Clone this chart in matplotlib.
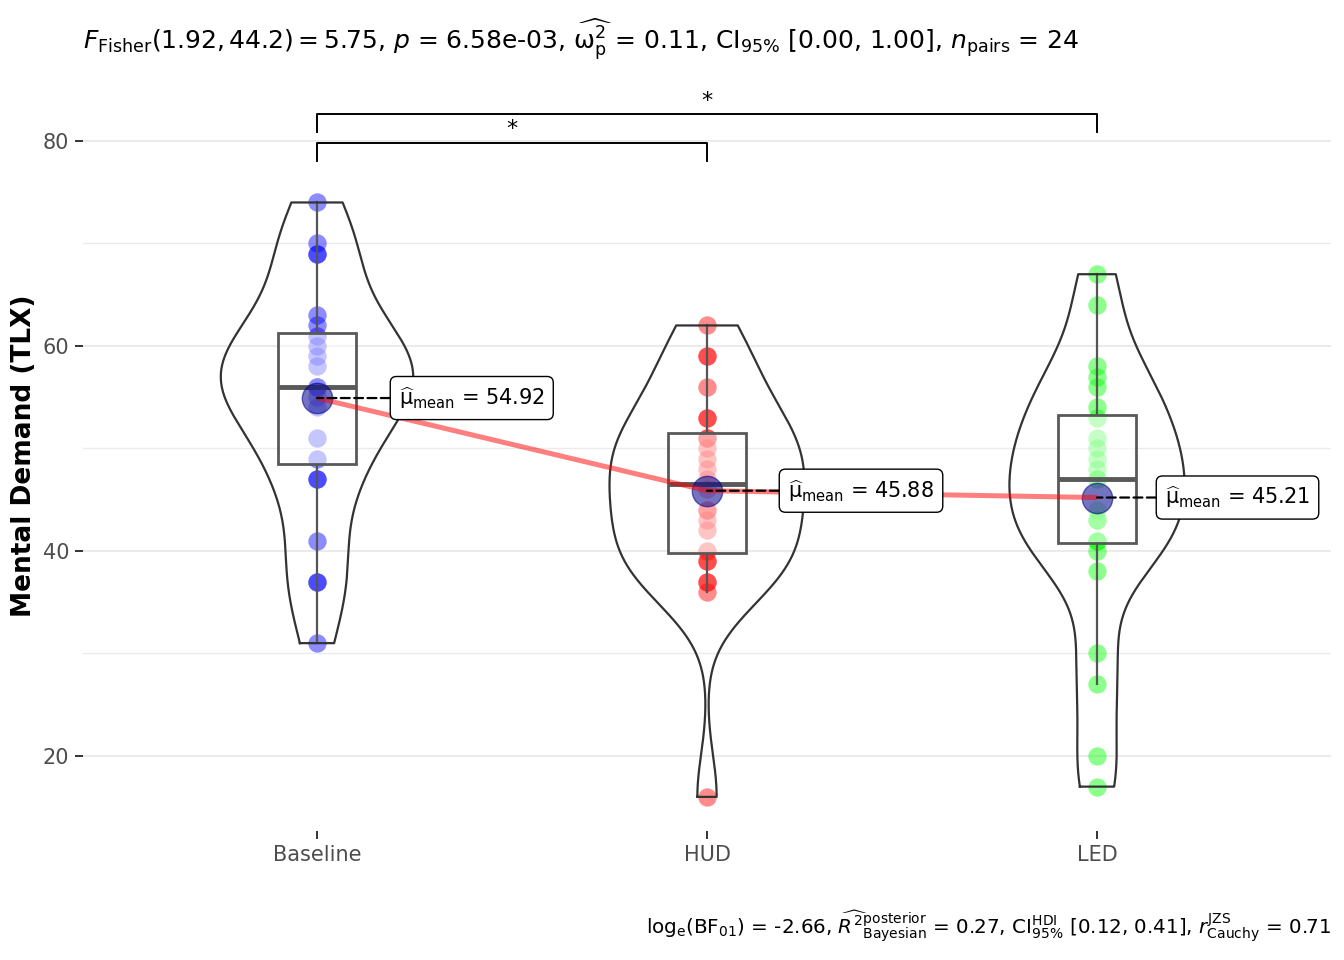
import numpy as np
import matplotlib
matplotlib.use("Agg")
import matplotlib.pyplot as plt
from matplotlib.patches import Rectangle

plt.rcParams["font.family"] = ["DejaVu Sans"]
plt.rcParams["mathtext.fontset"] = "dejavusans"

# data
groups = ["Baseline", "HUD", "LED"]
baseline = [74, 70, 69, 69, 63, 62, 61, 60, 59, 58, 56, 56, 56, 56, 55, 54, 51, 49, 47, 47, 41, 37, 37, 31]
hud = [62, 59, 59, 56, 53, 53, 51, 51, 50, 49, 48, 47, 46, 44, 44, 43, 42, 40, 39, 39, 37, 37, 36, 16]
led = [67, 64, 58, 57, 56, 54, 53, 51, 50, 49, 48, 47, 47, 44, 43, 43, 41, 41, 40, 38, 30, 27, 20, 17]
point_colors = ["#0000FF", "#FF0000", "#00FF00"]

title = (r"$F_{\mathrm{Fisher}}(1.92, 44.2) = 5.75$, $p$ = 6.58e-03, "
         r"$\widehat{\mathrm{\omega}_{\mathrm{p}}^{2}}$ = 0.11, CI$_{95\%}$ [0.00, 1.00], "
         r"$n_{\mathrm{pairs}}$ = 24")
caption = (r"log$_{\mathrm{e}}$(BF$_{01}$) = -2.66, "
           r"$\widehat{R^{2}}_{\mathrm{Bayesian}}^{\mathrm{posterior}}$ = 0.27, "
           r"CI$_{95\%}^{\mathrm{HDI}}$ [0.12, 0.41], "
           r"$r_{\mathrm{Cauchy}}^{\mathrm{JZS}}$ = 0.71")
ylabel = "Mental Demand (TLX)"

pairs = [(0, 1), (0, 2)]
pair_y = [79.8, 82.6]
pair_labels = ["*", "*"]

# layout
label_offsets = [82, 81, 68]
W, H = 1344, 960


def kde(values, grid):
    v = np.asarray(values, float)
    q75, q25 = np.percentile(v, [75, 25])
    bw = 0.9 * min(v.std(ddof=1), (q75 - q25) / 1.34) * len(v) ** -0.2
    z = (grid[:, None] - v[None, :]) / bw
    return np.exp(-0.5 * z ** 2).sum(axis=1) / (len(v) * bw * np.sqrt(2 * np.pi))


fig = plt.figure(figsize=(W / 100, H / 100), dpi=100)
ax = fig.add_axes([83 / W, 1 - 831 / H, (1331 - 83) / W, (831 - 80) / H])
ax.set_xlim(-0.6, 2.6)
ax.set_ylim(12.67, 85.95)
for s in ax.spines.values():
    s.set_visible(False)

ax.set_yticks([20, 40, 60, 80])
ax.set_yticks([30, 50, 70], minor=True)
ax.yaxis.grid(True, which="major", color="#EBEBEB", lw=1.5, zorder=0)
ax.yaxis.grid(True, which="minor", color="#EBEBEB", lw=1.0, zorder=0)
ax.set_axisbelow(True)
ax.set_xticks(range(len(groups)), groups)
ax.tick_params(axis="both", which="major", length=6, width=1.4, color="#333333",
               labelcolor="#4D4D4D", labelsize=15, pad=4)
ax.tick_params(axis="y", which="minor", length=0)

data = [baseline, hud, led]
grids = [np.linspace(min(d), max(d), 512) for d in data]
dens = [kde(d, g) for d, g in zip(data, grids)]
dmax = max(d.max() for d in dens)
means = [np.mean(d) for d in data]

for i, (vals, col) in enumerate(zip(data, point_colors)):
    vals = np.asarray(vals, float)
    ax.scatter(np.full(len(vals), i), vals, s=175, color=col, alpha=0.45, lw=0, zorder=2)

    q1, med, q3 = np.percentile(vals, [25, 50, 75])
    iqr = q3 - q1
    lo = vals[vals >= q1 - 1.5 * iqr].min()
    hi = vals[vals <= q3 + 1.5 * iqr].max()
    ax.plot([i, i], [q3, hi], color="#555555", lw=1.6, zorder=3)
    ax.plot([i, i], [lo, q1], color="#555555", lw=1.6, zorder=3)
    ax.add_patch(Rectangle((i - 0.1, q1), 0.2, iqr, facecolor=(1, 1, 1, 0.5),
                           edgecolor="#595959", lw=2.0, zorder=3))
    ax.plot([i - 0.1, i + 0.1], [med, med], color="#595959", lw=3.5, zorder=3,
            solid_capstyle="butt")

    half = dens[i] / dmax * 0.25
    g = grids[i]
    xs = np.concatenate([i - half, (i + half)[::-1], [i - half[0]]])
    ys = np.concatenate([g, g[::-1], [g[0]]])
    ax.plot(xs, ys, color="#333333", lw=1.6, zorder=3)

ax.scatter(range(len(groups)), means, s=480, color="#00008B", alpha=0.55, lw=1,
           edgecolor="#00008B", zorder=4)
ax.plot(range(len(groups)), means, color="#FF0000", alpha=0.5, lw=3.6, zorder=5,
        solid_capstyle="butt")

for i, m in enumerate(means):
    ax.annotate(r"$\widehat{\mathrm{\mu}}_{\mathrm{mean}}$" + f" = {m:.2f}", xy=(i, m),
                xytext=(label_offsets[i], 0), textcoords="offset pixels",
                ha="left", va="center", fontsize=15, zorder=6,
                bbox=dict(boxstyle="round,pad=0.42,rounding_size=0.3", fc="white",
                          ec="black", lw=1.0),
                arrowprops=dict(arrowstyle="-", ls=(0, (4, 2)), lw=1.6, color="black",
                                shrinkA=0, shrinkB=0))

for (a, b), y, lab in zip(pairs, pair_y, pair_labels):
    ax.plot([a, a, b, b], [y - 1.75, y, y, y - 1.75], color="black", lw=1.4,
            zorder=6, clip_on=False)
    ax.text((a + b) / 2, y + 0.35, lab, ha="center", va="bottom", fontsize=16, zorder=6)

fig.text(83 / W, 1 - 40 / H, title, ha="left", va="center", fontsize=18)
fig.text(1331 / W, 1 - 927 / H, caption, ha="right", va="center", fontsize=14.3)
fig.text(24 / W, 1 - 456 / H, ylabel, rotation=90, ha="center", va="center",
         fontsize=19, fontweight="bold")

fig.savefig("out.png", dpi=100)
